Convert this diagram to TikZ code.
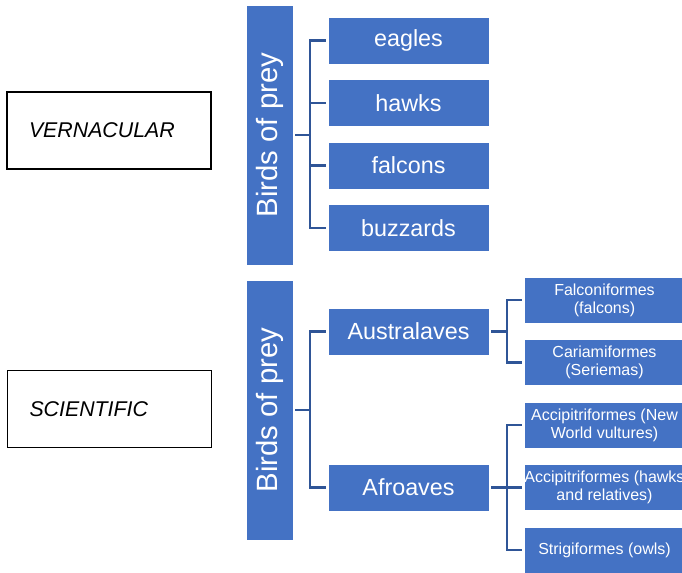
\documentclass[tikz,border=0pt]{standalone}
\usepackage{fontspec}
\setmainfont{Liberation Sans}
\begin{document}
\begin{tikzpicture}[x=0.75pt,y=-0.75pt,
  boxfill/.style={fill=smblue,draw=white,line width=0.6pt,inner sep=0pt,text=white},
  rootbox/.style={boxfill,minimum width=35.25pt,minimum height=195pt,
    font=\fontsize{22}{26}\selectfont,rotate=90},
  midbox/.style={boxfill,minimum width=120.75pt,minimum height=35.25pt,
    font=\fontsize{17.5}{21}\selectfont},
  leafbox/.style={boxfill,minimum width=120.75pt,minimum height=34.5pt,
    align=center,font=\fontsize{12}{13.5}\selectfont},
  labelbox/.style={draw=black,line width=1.1pt,minimum width=153pt,minimum height=58pt,
    inner xsep=16.5pt,text width=120pt,align=left,
    font=\fontsize{16}{19}\selectfont\itshape},
  link/.style={draw=linkblue,line width=2pt,shorten <=1.5pt,shorten >=1.5pt}]
\definecolor{smblue}{HTML}{4472C4}
\definecolor{linkblue}{HTML}{2F5597}
\useasboundingbox (0,0) rectangle (682,572);

% category labels
\node[labelbox] (vern) at (109,130.5) {VERNACULAR};
\node[labelbox] (sci) at (109.5,409) {SCIENTIFIC};

% vernacular tree
\node[rootbox,minimum width=195pt,minimum height=35.25pt] (rootA) at (269.5,135) {Birds of prey};
\node[midbox] (eagles) at (408.5,40.5) {eagles};
\node[midbox] (hawks) at (408.5,103) {hawks};
\node[midbox] (falcons) at (408.5,165.5) {falcons};
\node[midbox] (buzzards) at (408.5,228) {buzzards};
\coordinate (barA) at (310,135);
\foreach \c in {eagles,hawks,falcons,buzzards}
  \draw[link,line join=miter] (rootA.south) -- (barA) |- (\c.west);

% scientific tree
\node[rootbox,minimum width=195pt,minimum height=35.25pt] (rootB) at (269.5,410) {Birds of prey};
\node[midbox] (austral) at (408.5,331.5) {Australaves};
\node[midbox] (afro) at (408.5,487.5) {Afroaves};
\coordinate (barB) at (310,410);
\foreach \c in {austral,afro}
  \draw[link] (rootB.south) -- (barB) |- (\c.west);

\node[leafbox] (falconif) at (604.5,300) {Falconiformes\\(falcons)};
\node[leafbox] (cariam) at (604.5,362.5) {Cariamiformes\\(Seriemas)};
\coordinate (barC) at (507,331.5);
\foreach \c in {falconif,cariam}
  \draw[link] (austral.east) -- (barC) |- (\c.west);

\node[leafbox] (accnw) at (604.5,425) {Accipitriformes (New\\World vultures)};
\node[leafbox] (acchk) at (604.5,487.5) {Accipitriformes (hawks\\and relatives)};
\node[leafbox] (strig) at (604.5,550) {Strigiformes (owls)};
\coordinate (barD) at (507,487.5);
\foreach \c in {accnw,acchk,strig}
  \draw[link] (afro.east) -- (barD) |- (\c.west);
\end{tikzpicture}
\end{document}
